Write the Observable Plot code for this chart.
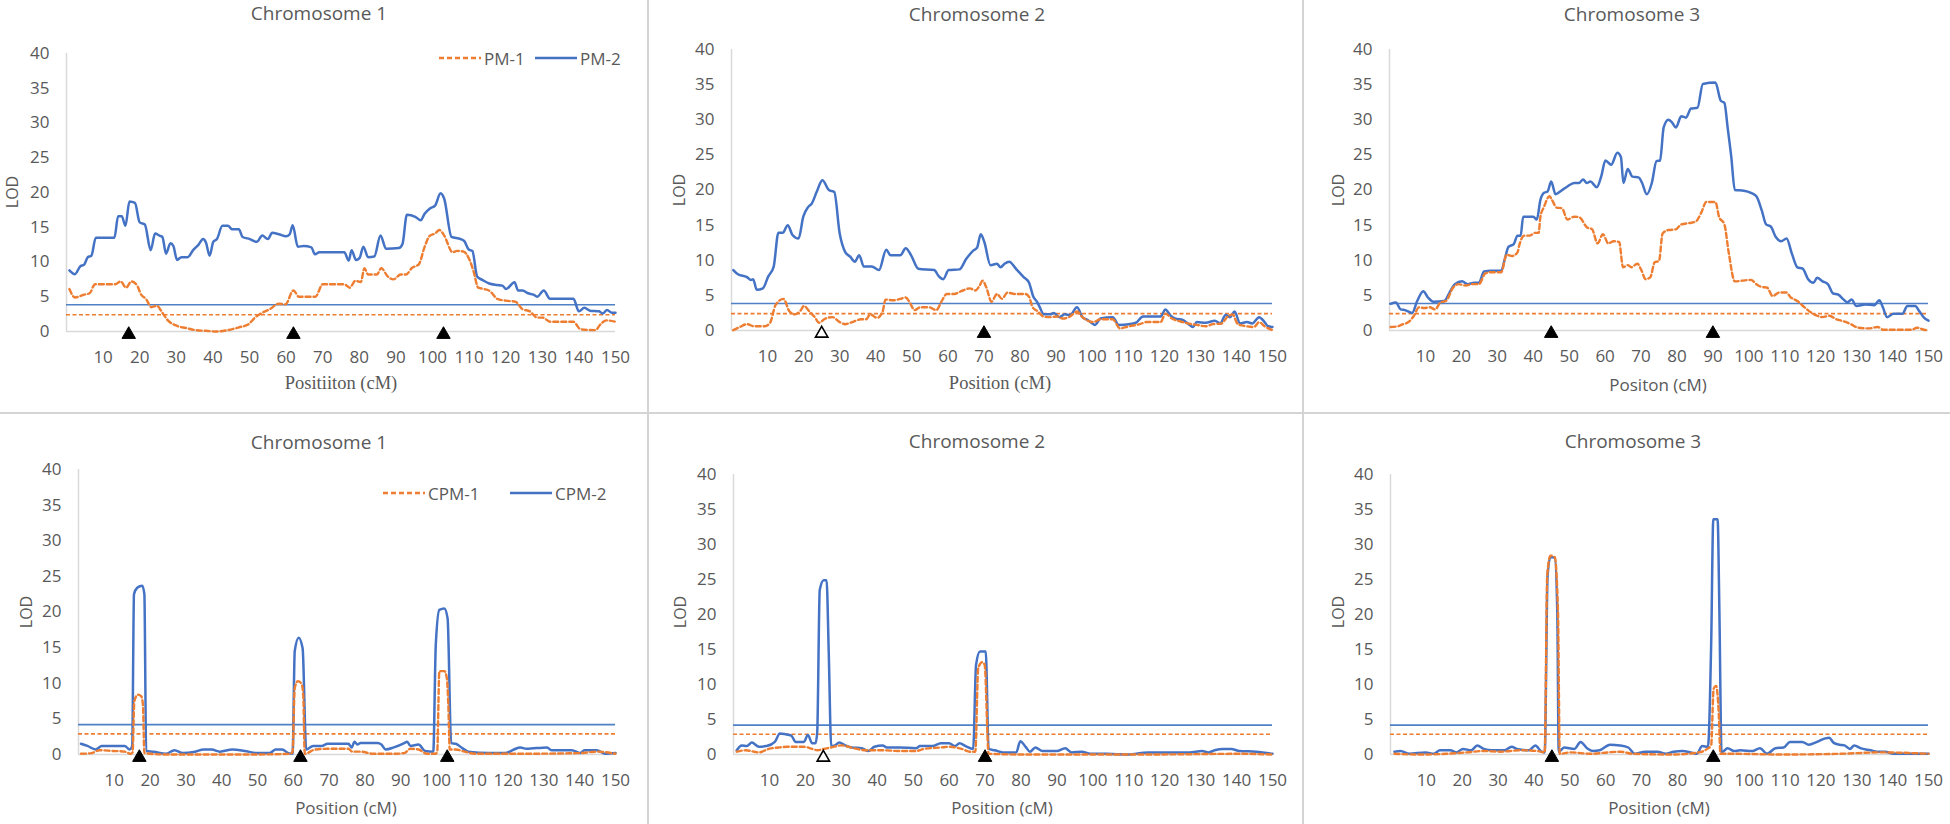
<!DOCTYPE html>
<html>
<head>
<meta charset="utf-8">
<script src="https://cdn.jsdelivr.net/npm/d3@7"></script>
<script src="https://cdn.jsdelivr.net/npm/@observablehq/plot@0.6"></script>
<style>
  html, body { margin: 0; padding: 0; background: #fff; }
  body { width: 1950px; height: 824px; position: relative; overflow: hidden; font-family: "Open Sans", sans-serif; color: #595959; }
  .abs { position: absolute; }
  .txt { position: absolute; transform: translate(-50%, -50%); white-space: nowrap; line-height: 1; }
  .title { font-size: 19px; }
  .xlab { font-size: 17px; }
  .serif { font-family: "Liberation Serif", "DejaVu Serif", serif; font-size: 18.5px; }
  .ylab { font-size: 16px; transform: translate(-50%, -50%) rotate(-90deg); }
  .leg { position: absolute; font-size: 17px; line-height: 1; transform: translateY(-50%); white-space: nowrap; }
  .sep { position: absolute; background: #d4d4d4; }
</style>
</head>
<body>
<div id="root"></div>
<script>
// ---------- tick labels ----------
const xTicks = [10, 20, 30, 40, 50, 60, 70, 80, 90, 100, 110, 120, 130, 140, 150];
const yTicks = [0, 5, 10, 15, 20, 25, 30, 35, 40];

// ---------- thresholds ----------
const thrTop = { pm1: 2.4, pm2: 3.85 };
const thrBottom = { cpm1: 2.9, cpm2: 4.2 };

// ---------- marker positions (cM) ----------
const markersChr1 = [17, 62, 103];
const markersChr2Filled = [70];
const markersChr2Open = [25];
const markersChr3 = [45, 90];

// ---------- PM (top row) ----------
const pm1_chr1 = [[0.8,6.1],[2.3,4.9],[4.8,5.3],[6.3,5.5],[7.8,6.8],[13.3,6.8],[14.8,7.2],[16.3,6.3],[17.7,7.2],[19.2,6.7],[20.4,5.3],[21.7,4.7],[23.2,3.5],[24.7,3.7],[26.2,2.7],[27.7,1.6],[30.2,0.8],[32.7,0.5],[35.2,0.2],[38.1,0.1],[41.1,0],[44.1,0.2],[47.1,0.6],[49.6,1.0],[51.5,2.0],[53.5,2.7],[55.5,3.2],[58.0,4.0],[59.8,3.9],[62.0,5.9],[63.5,5.0],[68.0,5.0],[70.0,6.8],[75.9,6.8],[77.4,6.3],[78.9,7.3],[80.4,7.1],[81.4,9.1],[82.4,8.2],[84.8,8.2],[86.0,9.1],[87.8,7.9],[89.3,7.5],[91.3,8.2],[92.8,8.2],[94.3,9.1],[96.3,9.7],[97.8,12.1],[99.3,13.8],[100.7,14.1],[101.9,14.6],[103.2,13.8],[105.5,11.4],[106.7,11.6],[108.5,11.5],[110.2,10.2],[111.2,8.7],[112.5,6.3],[114.2,6.1],[115.7,5.8],[117.7,4.7],[120.6,4.4],[122.6,4.3],[124.6,3.2],[126.6,2.9],[128.6,2.0],[130.1,2.0],[132.1,1.4],[138.5,1.4],[140.5,0.3],[144.5,0.2],[146.0,1.1],[147.5,1.6],[150,1.4]];
const pm2_chr1 = [[0.8,8.8],[2.3,8.25],[3.8,9.4],[4.8,9.6],[5.8,10.7],[6.8,10.9],[8.0,13.5],[9.3,13.5],[13.1,13.5],[14.1,16.6],[15.1,16.6],[16.1,15.2],[17.2,18.7],[18.7,18.5],[20.0,15.7],[21.4,15.4],[23.0,11.7],[24.2,14.1],[25.4,13.8],[26.2,13.6],[27.2,11.2],[28.4,12.7],[29.2,12.3],[30.2,10.3],[31.4,10.7],[33.1,10.7],[34.6,11.7],[36.1,12.5],[37.3,13.3],[38.1,12.8],[39.1,10.9],[40.1,12.9],[41.1,13.3],[42.6,15.2],[44.1,15.2],[45.3,14.7],[47.1,14.7],[48.1,13.6],[50.1,13.3],[52.0,12.9],[53.5,13.8],[55.0,13.3],[56.2,14.2],[58.0,14.0],[60.0,13.7],[61.0,14.0],[61.8,15.3],[63.2,12.2],[64.8,12.3],[66.9,12.1],[67.9,11.1],[69.1,11.4],[75.9,11.4],[77.1,10.2],[77.9,11.7],[79.1,10.3],[80.1,10.6],[81.1,12.2],[82.4,10.7],[84.1,10.8],[85.8,13.8],[87.3,11.9],[90.8,12.0],[91.8,12.6],[93.0,16.8],[95.3,16.5],[96.8,16.0],[97.8,16.9],[99.3,17.7],[100.7,18.1],[102.2,19.9],[103.2,19.1],[105.2,13.6],[107.7,13.3],[108.7,13.0],[109.9,11.8],[110.9,11.6],[112.2,7.9],[113.7,7.4],[115.5,6.9],[117.7,6.7],[119.1,6.6],[120.1,6.1],[122.4,7.1],[123.4,5.9],[124.6,5.9],[126.1,5.5],[127.6,5.3],[128.6,5.0],[130.4,5.9],[132.1,4.7],[138.5,4.7],[140.0,2.9],[141.5,3.4],[143.0,3.0],[145.5,2.9],[146.5,2.6],[147.7,3.1],[149.0,2.7],[150,2.7]];

const pm1_chr2 = [[0.5,0.05],[2.3,0.5],[4.3,0.9],[6.2,0.6],[9.2,0.6],[10.7,1.1],[12.2,3.6],[14.4,4.5],[16.1,2.7],[17.6,2.3],[19.1,2.8],[20.1,3.5],[21.6,2.7],[23.1,1.9],[24.3,1.1],[26.0,1.7],[28.0,1.9],[30.0,1.2],[31.5,0.9],[33.5,1.2],[35.9,1.6],[37.4,1.6],[38.4,2.3],[40.4,1.8],[41.9,2.7],[42.7,4.4],[44.9,4.3],[46.8,4.5],[48.3,4.7],[49.3,4.1],[50.8,2.9],[52.3,3.3],[54.8,3.3],[56.8,2.9],[58.2,4.1],[59.7,5.2],[61.7,5.2],[63.7,5.6],[66.1,6.0],[67.6,5.7],[68.8,6.4],[69.6,7.1],[70.6,6.2],[72.1,4.1],[73.6,5.2],[75.0,4.5],[76.5,5.4],[78.5,5.2],[81.5,5.2],[82.5,4.8],[83.5,3.3],[85.0,2.7],[86.4,2.0],[88.4,1.9],[90.4,2.0],[91.9,1.7],[93.9,2.0],[95.8,2.7],[97.3,1.9],[100.3,1.2],[102.3,1.6],[105.7,1.6],[107.7,0.3],[110.2,0.6],[113.2,0.9],[115.1,1.2],[119.0,1.2],[120.3,2.4],[122.1,1.7],[123.6,1.4],[125.1,1.2],[127.6,0.9],[129.0,0.8],[131.5,0.6],[133.5,0.9],[135.9,1.0],[137.4,1.9],[138.9,2.3],[140.4,0.9],[142.9,0.6],[144.9,0.5],[146.3,1.2],[147.8,0.6],[150,0.05]];
const pm2_chr2 = [[0.5,8.6],[1.8,8.0],[4.3,7.6],[5.4,7.2],[6.0,7.3],[7.0,5.8],[8.7,6.0],[10.2,7.7],[11.7,9.1],[13.0,13.9],[14.2,13.9],[15.6,15.0],[16.9,13.6],[18.6,13.1],[19.9,16.2],[21.3,17.6],[22.3,18.1],[23.6,19.7],[25.2,21.4],[27.0,20.0],[28.5,19.7],[30.0,13.8],[31.5,11.2],[32.9,10.5],[34.2,9.8],[35.4,10.7],[36.7,9.1],[38.9,9.1],[40.9,8.6],[42.9,11.5],[44.1,10.7],[46.8,10.7],[48.3,11.7],[49.8,10.7],[51.8,8.8],[56.2,8.6],[57.5,7.7],[58.7,7.3],[60.2,8.6],[63.2,8.7],[65.1,10.2],[67.1,11.4],[68.1,11.8],[69.1,13.7],[70.1,12.6],[71.8,9.3],[73.6,9.5],[74.6,9.0],[75.7,9.5],[77.0,9.8],[79.0,8.7],[81.0,7.6],[82.5,6.8],[83.7,4.8],[84.7,4.1],[85.4,3.4],[86.6,2.3],[88.4,2.3],[89.4,2.5],[90.9,1.9],[92.4,2.3],[93.9,2.2],[95.8,3.3],[97.3,1.9],[98.8,1.5],[100.8,0.8],[102.3,1.7],[105.7,1.9],[107.4,0.8],[110.2,0.9],[112.1,1.1],[114.1,2.0],[119.0,2.0],[120.3,3.0],[121.6,2.2],[123.1,1.7],[125.1,1.5],[127.0,0.8],[128.0,0.5],[129.0,1.2],[131.5,1.1],[134.0,1.4],[135.5,1.0],[137.0,2.2],[138.2,1.9],[139.5,2.7],[141.0,1.0],[142.9,1.2],[144.4,1.0],[146.3,1.9],[147.8,1.2],[148.8,0.6],[150,0.5]];

const pm1_chr3 = [[0.3,0.5],[2.3,0.6],[3.8,0.9],[5.3,1.2],[6.8,2.1],[8.2,3.3],[9.7,3.2],[11.2,3.3],[12.7,3.0],[14.2,4.0],[15.7,4.2],[17.7,6.1],[19.2,6.6],[21.2,6.4],[23.1,6.6],[24.9,6.6],[26.6,8.1],[28.1,8.3],[31.1,8.3],[32.6,10.8],[34.1,10.6],[35.6,11.1],[36.2,12.3],[37.5,13.5],[39.0,13.5],[40.5,13.9],[41.5,13.9],[42.0,16.2],[43.0,17.6],[44.5,19.1],[45.2,18.6],[46.5,17.5],[48.0,17.4],[49.5,15.8],[51.4,16.2],[52.9,16.1],[54.9,14.7],[56.4,14.4],[57.9,12.4],[59.4,13.7],[60.9,12.4],[62.4,12.7],[63.9,12.6],[65.0,9.0],[66.3,9.3],[67.3,9.0],[69.0,9.5],[70.0,8.7],[71.3,7.3],[72.6,7.6],[73.8,9.7],[75.0,9.9],[76.0,13.8],[77.6,14.3],[79.7,14.4],[81.2,15.1],[83.5,15.3],[85.2,15.5],[86.7,16.7],[88.2,18.3],[90.7,18.3],[91.7,16.2],[93.2,15.1],[94.4,11.1],[96.1,7.0],[100.6,7.2],[102.1,6.6],[103.6,6.2],[105.1,6.1],[106.6,4.9],[108.5,5.4],[110.5,5.4],[111.5,4.8],[113.5,4.2],[115.5,3.3],[117.5,2.5],[119.0,2.1],[120.5,1.9],[122.4,2.1],[124.4,1.6],[126.4,1.3],[128.4,0.9],[130.4,0.4],[133.4,0.3],[135.9,0.5],[137.4,0.1],[141.3,0.1],[145.3,0.1],[146.8,0.4],[148.8,0.1],[150,0]];
const pm2_chr3 = [[0.3,3.8],[1.8,4.0],[3.1,3.0],[4.3,2.9],[6.3,2.5],[7.7,4.2],[9.4,5.6],[10.7,4.7],[12.2,4.1],[15.2,4.2],[16.7,5.4],[18.2,6.6],[20.2,7.0],[21.7,6.6],[23.6,6.8],[24.9,6.8],[26.3,8.4],[28.1,8.5],[31.1,8.5],[32.1,10.2],[33.1,11.9],[34.6,12.3],[35.6,13.5],[36.5,13.5],[37.2,16.2],[40.0,16.2],[41.0,15.8],[42.0,18.6],[43.0,19.6],[44.0,19.8],[45.0,21.2],[46.2,19.4],[47.8,19.9],[49.5,20.5],[51.4,21.0],[52.7,21.0],[53.9,21.5],[54.9,21.0],[55.9,21.2],[57.7,20.4],[58.9,21.9],[60.1,24.2],[61.7,23.6],[63.4,25.3],[64.4,24.7],[65.1,21.0],[66.3,23.0],[67.6,21.9],[69.3,21.8],[70.3,21.0],[71.6,19.4],[73.0,21.0],[74.3,24.1],[75.3,24.2],[76.3,28.9],[77.6,30.0],[78.5,29.7],[79.7,28.9],[81.2,30.5],[82.5,30.3],[83.9,31.6],[85.7,31.7],[87.2,35.1],[90.7,35.3],[92.2,32.7],[93.2,32.4],[94.1,28.9],[95.1,24.8],[96.1,20.0],[98.6,19.9],[100.6,19.6],[102.1,19.1],[103.6,17.1],[104.8,15.1],[106.1,14.8],[107.5,13.3],[109.0,12.7],[110.5,13.1],[112.0,10.9],[113.5,9.0],[115.0,8.8],[116.5,7.3],[118.0,6.8],[119.0,7.5],[120.5,7.0],[122.0,6.6],[123.4,5.3],[124.9,5.1],[126.4,4.4],[127.4,4.0],[128.6,4.4],[129.9,3.5],[132.4,3.7],[134.9,3.6],[136.3,4.3],[137.3,3.3],[138.5,1.9],[140.3,2.4],[142.8,2.4],[144.1,3.5],[146.3,3.5],[147.5,2.7],[148.8,1.8],[150,1.4]];

// ---------- CPM (bottom row) ----------
const cpm1_chr1 = [[0.7,0.1],[3.6,0.2],[5.9,0.6],[9.4,0.5],[12.9,0.4],[14.6,0.1],[15.1,0.3],[15.6,7.5],[16.6,8.4],[17.5,8.2],[18.0,7.0],[18.4,0.2],[24.4,0],[47.6,0],[59.2,0.1],[59.8,0.4],[60.4,9.3],[61.3,10.3],[62.4,9.8],[62.8,8.0],[63.2,0.1],[66.1,0.7],[69.6,0.8],[75.4,0.8],[76.5,0.4],[78.8,0.4],[82.3,0.1],[88.1,0.1],[91.0,0.2],[92.7,0.8],[95.0,0.7],[97.3,0.1],[99.7,0.1],[100.2,0.4],[100.8,11.7],[102.2,11.7],[102.9,10.7],[103.3,7.0],[103.7,0.7],[105.4,0.7],[107.8,0.4],[111.2,0.1],[121.6,0.1],[140.2,0.2],[144.8,0.4],[150,0.1]];
const cpm2_chr1 = [[0.7,1.5],[2.5,1.2],[4.8,0.7],[6.5,1.2],[9.4,1.2],[12.9,1.2],[14.3,0.7],[15.0,1.2],[15.5,22.5],[16.4,23.4],[17.8,23.7],[18.4,22.5],[18.9,0.5],[21.0,0.4],[24.4,0.1],[26.8,0.6],[29.1,0.2],[32.6,0.4],[35.0,0.7],[37.2,0.7],[39.5,0.4],[43.0,0.7],[46.4,0.5],[49.9,0.2],[53.4,0.2],[55.1,0.7],[56.9,0.7],[58.6,0.2],[59.8,0.1],[60.4,14.5],[61.5,16.4],[62.6,14.9],[63.6,0.7],[65.5,1.2],[67.9,1.2],[69.6,1.5],[75.4,1.5],[76.3,1.0],[77.1,1.8],[77.9,1.4],[78.8,1.6],[83.5,1.6],[84.6,1.4],[85.8,0.7],[88.1,1.0],[91.0,1.6],[91.8,1.8],[92.7,1.2],[95.0,1.4],[96.8,0.5],[99.1,0.4],[99.8,15.4],[100.8,20.3],[102.2,20.5],[103.1,19.1],[104.1,1.6],[105.4,1.5],[107.2,0.9],[108.9,0.4],[114.7,0.2],[119.3,0.2],[121.6,0.7],[123.4,1.0],[125.1,0.8],[130.9,1.0],[132.1,0.6],[137.8,0.6],[140.2,0.2],[141.3,0.6],[144.8,0.6],[147.1,0.1],[150,0.2]];

const cpm1_chr2 = [[0.9,0.4],[3.4,0.6],[7.1,0.3],[9.8,0.8],[12.6,1.0],[15.0,1.1],[19.6,1.1],[21.9,0.8],[23.3,0.6],[25.1,0.8],[27.1,1.0],[30.0,1.3],[33.4,0.9],[36.9,0.6],[41.5,0.6],[46.1,0.5],[50.8,0.5],[53.1,0.8],[57.7,1.0],[60.0,1.1],[63.5,0.8],[65.8,0.4],[67.3,0.4],[68.1,12.3],[69.2,13.2],[69.9,12.8],[71.0,0.1],[80.8,0],[92.3,0],[115.4,0],[140.8,0.1],[150,0]];
const cpm2_chr2 = [[0.9,0.6],[2.3,1.3],[3.7,1.2],[5.1,1.7],[7.1,1.1],[9.2,1.2],[11.5,1.8],[12.9,3.0],[14.4,2.9],[16.1,2.7],[17.3,1.8],[19.6,1.8],[20.7,2.8],[21.9,1.6],[22.8,1.6],[23.3,3.2],[24.0,23.5],[25.1,24.9],[25.9,24.9],[26.5,14.7],[27.2,1.2],[28.2,1.3],[29.4,1.7],[31.1,1.3],[32.9,1.0],[35.7,0.9],[37.5,0.5],[39.2,1.1],[41.5,1.3],[42.7,1.0],[46.1,1.0],[50.8,0.9],[51.9,1.2],[55.4,1.2],[57.7,1.6],[60.0,1.6],[61.7,1.2],[62.9,1.6],[64.6,1.2],[66.7,0.8],[67.5,12.8],[68.6,14.7],[70.2,14.7],[71.0,0.8],[72.7,0.6],[75.0,0.3],[78.7,0.3],[79.8,1.9],[81.3,1.1],[82.5,0.4],[84.0,1.0],[86.0,0.5],[90.0,0.5],[92.3,0.9],[94.1,0.3],[96.9,0.4],[99.3,0.1],[103.9,0.1],[109.7,0],[115.4,0.3],[122.3,0.3],[126.9,0.3],[130.4,0.5],[132.2,0.3],[133.9,0.6],[136.2,0.8],[138.5,0.8],[140.8,0.5],[145.4,0.4],[150,0.1]];

const cpm1_chr3 = [[1.1,0.1],[7.5,0],[15.5,0.1],[21.3,0.3],[26.0,0.5],[30.6,0.4],[36.3,0.6],[40.9,0.5],[43.0,0.3],[43.7,25.6],[44.6,28.4],[45.8,28.2],[46.7,20.4],[47.2,0.1],[50.2,0.3],[55.9,0.1],[60.6,0.3],[64.0,0.4],[67.5,0.1],[79.0,0],[86.0,0.3],[88.3,0.8],[89.4,1.3],[90.1,9.4],[90.8,9.8],[91.5,6.1],[92.0,0.1],[96.4,0.1],[107.9,0],[125.2,0.1],[136.8,0.3],[150,0.1]];
const cpm2_chr3 = [[1.1,0.4],[2.8,0.5],[5.2,0.1],[9.8,0.3],[12.1,0.1],[13.8,0.6],[16.7,0.6],[18.4,0.3],[20.2,0.8],[22.5,0.6],[24.2,1.3],[26.0,0.8],[28.3,0.6],[31.7,0.6],[33.8,1.1],[35.2,0.8],[38.6,0.6],[40.4,1.3],[42.1,0.4],[43.0,0.3],[43.8,25.6],[44.6,28.2],[45.8,28.1],[46.5,20.4],[46.9,0.4],[48.4,1.0],[51.3,0.8],[53.0,1.8],[54.8,0.9],[56.5,0.5],[58.3,0.6],[61.2,1.4],[64.0,1.3],[66.3,1.0],[68.1,0.1],[71.0,0.4],[74.4,0.4],[76.7,0.1],[79.0,0.4],[81.4,0.5],[83.7,0.3],[85.4,0.1],[86.9,1.2],[88.5,1.1],[89.4,15.6],[90.0,33.6],[91.2,33.6],[91.7,20.4],[92.3,0.3],[94.0,0.9],[95.8,0.5],[97.5,0.6],[100.9,0.5],[103.0,0.9],[105.0,0.1],[107.3,0.9],[109.6,1.0],[111.4,1.8],[114.8,1.8],[116.6,1.4],[118.9,1.8],[121.2,2.3],[122.3,2.4],[123.5,1.7],[125.2,1.4],[126.6,1.3],[128.1,0.8],[129.3,1.3],[131.0,0.9],[133.9,0.6],[135.6,0.4],[137.9,0.4],[140.2,0.1],[144.9,0.1],[150,0.1]];

// ---------- text ----------
const titles = ["Chromosome 1", "Chromosome 2", "Chromosome 3"];
const xTitlesTop = ["Positiiton (cM)", "Position (cM)", "Positon (cM)"];
const xTitleBottom = "Position (cM)";
const yTitle = "LOD";
const legendTop = ["PM-1", "PM-2"];
const legendBottom = ["CPM-1", "CPM-2"];

// ---------- styling ----------
const ORANGE = "#ED7D31";
const BLUE = "#4472C4";
const BLUE_THR = "#4f81c7";
const AXIS = "#d9d9d9";
const FONT = "Open Sans, sans-serif";

// ---------- layout (page coordinates) ----------
const layout = [
  // top row
  { left: 0,    top: 0,   w: 650, h: 412, mL: 66, mR: 35, mT: 53, mB: 81 },
  { left: 650,  top: 0,   w: 650, h: 412, mL: 81, mR: 28, mT: 49, mB: 82 },
  { left: 1300, top: 0,   w: 650, h: 412, mL: 89, mR: 22, mT: 49, mB: 82 },
  // bottom row
  { left: 0,    top: 412, w: 650, h: 412, mL: 78, mR: 35, mT: 57, mB: 70 },
  { left: 650,  top: 412, w: 650, h: 412, mL: 83, mR: 28, mT: 62, mB: 70 },
  { left: 1300, top: 412, w: 650, h: 412, mL: 90, mR: 22, mT: 62, mB: 70 }
];

const panels = [
  { s1: pm1_chr1, s2: pm2_chr1, t1: thrTop.pm1, t2: thrTop.pm2, filled: markersChr1, open: [] },
  { s1: pm1_chr2, s2: pm2_chr2, t1: thrTop.pm1, t2: thrTop.pm2, filled: markersChr2Filled, open: markersChr2Open },
  { s1: pm1_chr3, s2: pm2_chr3, t1: thrTop.pm1, t2: thrTop.pm2, filled: markersChr3, open: [] },
  { s1: cpm1_chr1, s2: cpm2_chr1, t1: thrBottom.cpm1, t2: thrBottom.cpm2, filled: markersChr1, open: [] },
  { s1: cpm1_chr2, s2: cpm2_chr2, t1: thrBottom.cpm1, t2: thrBottom.cpm2, filled: markersChr2Filled, open: markersChr2Open },
  { s1: cpm1_chr3, s2: cpm2_chr3, t1: thrBottom.cpm1, t2: thrBottom.cpm2, filled: markersChr3, open: [] }
];

const root = document.getElementById("root");

function addText(txt, x, y, cls) {
  const d = document.createElement("div");
  d.className = "txt " + cls;
  d.style.left = x + "px";
  d.style.top = y + "px";
  d.textContent = txt;
  root.appendChild(d);
  return d;
}

panels.forEach((p, i) => {
  const L = layout[i];
  const chart = Plot.plot({
    width: L.w,
    height: L.h,
    marginLeft: L.mL,
    marginRight: L.mR,
    marginTop: L.mT,
    marginBottom: L.mB,
    style: { fontFamily: FONT, fontSize: "17px", color: "#595959", background: "transparent", overflow: "visible" },
    x: { domain: [0, 150], ticks: xTicks, tickSize: 0, tickPadding: 19, label: null },
    y: { domain: [0, 40], ticks: yTicks, tickSize: 0, tickPadding: 17, label: null },
    marks: [
      Plot.ruleY([0], { stroke: AXIS, strokeWidth: 1.5 }),
      Plot.ruleX([0], { y1: 0, y2: 40, stroke: AXIS, strokeWidth: 1.5 }),
      Plot.ruleY([p.t2], { stroke: BLUE_THR, strokeWidth: 1.6 }),
      Plot.ruleY([p.t1], { stroke: ORANGE, strokeWidth: 1.6, strokeDasharray: "4,2.5" }),
      Plot.line(p.s2, { x: d => d[0], y: d => d[1], stroke: BLUE, strokeWidth: 2.5, curve: "monotone-x" }),
      Plot.line(p.s1, { x: d => d[0], y: d => d[1], stroke: ORANGE, strokeWidth: 2.4, strokeDasharray: "5,3", curve: "monotone-x" }),
      Plot.dot(p.filled, { x: d => d, y: 0, symbol: "triangle", r: 5, fill: "black", stroke: "black", strokeWidth: 1, dy: 3 }),
      Plot.dot(p.open, { x: d => d, y: 0, symbol: "triangle", r: 4.6, fill: "white", stroke: "black", strokeWidth: 1.6, dy: 3 })
    ]
  });
  chart.classList.add("abs");
  chart.style.left = L.left + "px";
  chart.style.top = L.top + "px";
  root.appendChild(chart);
});

// titles
const titlePos = [[319, 13], [977, 14], [1632, 14], [319, 442], [977, 441], [1633, 441]];
titlePos.forEach((pos, i) => addText(titles[i % 3], pos[0], pos[1], "title"));

// x axis titles
addText(xTitlesTop[0], 341, 383, "serif");
addText(xTitlesTop[1], 1000, 383, "serif");
addText(xTitlesTop[2], 1658, 384, "xlab");
addText(xTitleBottom, 346, 807, "xlab");
addText(xTitleBottom, 1002, 807, "xlab");
addText(xTitleBottom, 1659, 807, "xlab");

// y axis titles
[[12, 192], [679, 190], [1338, 190], [26, 612], [680, 612], [1338, 612]].forEach(pos => addText(yTitle, pos[0], pos[1], "ylab"));

// legends
function legendSwatch(x, y, color, dashed) {
  const ns = "http://www.w3.org/2000/svg";
  const svg = document.createElementNS(ns, "svg");
  svg.setAttribute("width", 42);
  svg.setAttribute("height", 6);
  svg.style.position = "absolute";
  svg.style.left = x + "px";
  svg.style.top = (y - 3) + "px";
  const ln = document.createElementNS(ns, "line");
  ln.setAttribute("x1", 0); ln.setAttribute("x2", 42);
  ln.setAttribute("y1", 3); ln.setAttribute("y2", 3);
  ln.setAttribute("stroke", color);
  ln.setAttribute("stroke-width", 2.5);
  if (dashed) ln.setAttribute("stroke-dasharray", "5,3");
  svg.appendChild(ln);
  root.appendChild(svg);
}
function legendText(txt, x, y) {
  const d = document.createElement("div");
  d.className = "leg";
  d.style.left = x + "px";
  d.style.top = y + "px";
  d.textContent = txt;
  root.appendChild(d);
}
legendSwatch(439, 58, ORANGE, true);
legendText(legendTop[0], 484, 58);
legendSwatch(535, 58, BLUE, false);
legendText(legendTop[1], 580, 58);

legendSwatch(383, 493, ORANGE, true);
legendText(legendBottom[0], 428, 493);
legendSwatch(510, 493, BLUE, false);
legendText(legendBottom[1], 555, 493);

// panel separators
function sep(x, y, w, h) {
  const d = document.createElement("div");
  d.className = "sep";
  d.style.left = x + "px"; d.style.top = y + "px";
  d.style.width = w + "px"; d.style.height = h + "px";
  root.appendChild(d);
}
sep(647, 0, 2, 824);
sep(1302, 0, 2, 824);
sep(0, 412, 1950, 2);
</script>
</body>
</html>
